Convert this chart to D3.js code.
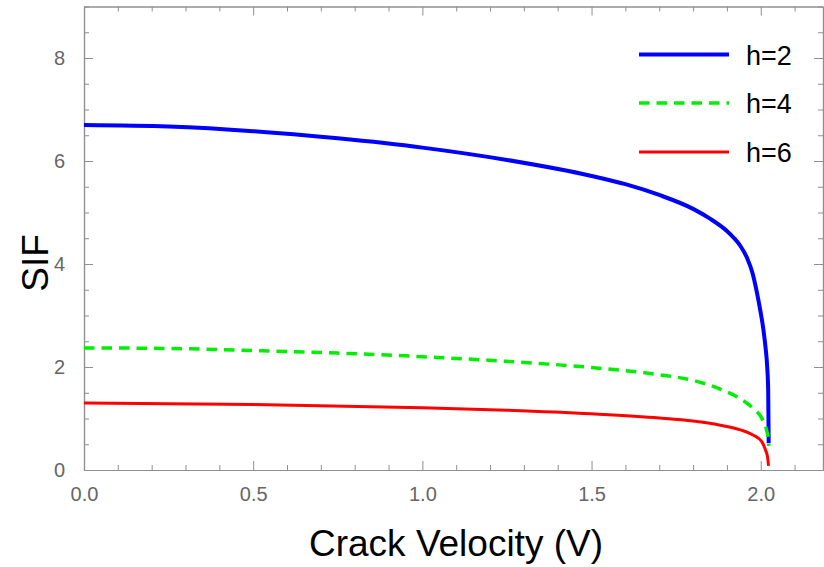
<!DOCTYPE html>
<html>
<head>
<meta charset="utf-8">
<script src="https://cdn.jsdelivr.net/npm/d3@7/dist/d3.min.js"></script>
<style>
html,body{margin:0;padding:0;background:#fff;}
svg{display:block;font-family:"Liberation Sans",Arial,sans-serif;}
</style>
</head>
<body>
<svg id="chart" width="824" height="567"></svg>
<script>
// ---- data ----
const seriesNames = ["h=2", "h=4", "h=6"];
const seriesColors = ["#0000ff", "#00ee00", "#ff0000"];

const vBlue = [0, 0.25, 0.5, 0.75, 1.0, 1.25, 1.5, 1.6, 1.7, 1.8, 1.85, 1.9, 1.92, 1.94, 1.96, 1.975, 1.988, 2.0, 2.008, 2.014, 2.019, 2.022, 2.0235];
const sifBlue = [6.70, 6.67, 6.58, 6.44, 6.26, 6.02, 5.71, 5.55, 5.34, 5.07, 4.88, 4.64, 4.51, 4.35, 4.11, 3.84, 3.47, 3.05, 2.72, 2.39, 2.01, 1.55, 0.52];

const vGreen = [0, 0.25, 0.5, 0.75, 1.0, 1.25, 1.5, 1.7, 1.8, 1.88, 1.94, 1.977, 2.006, 2.017, 2.022, 2.024];
const sifGreen = [2.37, 2.36, 2.32, 2.27, 2.20, 2.11, 1.99, 1.85, 1.74, 1.57, 1.38, 1.20, 0.97, 0.78, 0.62, 0.47];

const vRed = [0, 0.5, 1.0, 1.25, 1.5, 1.7, 1.8, 1.88, 1.94, 1.977, 2.003, 2.014, 2.02, 2.023];
const sifRed = [1.30, 1.27, 1.21, 1.16, 1.09, 1.01, 0.95, 0.87, 0.78, 0.68, 0.55, 0.39, 0.26, 0.08];

const xMajorTicks = [0, 0.5, 1.0, 1.5, 2.0];
const xTickLabels = ["0.0", "0.5", "1.0", "1.5", "2.0"];
const yMajorTicks = [0, 2, 4, 6, 8];
const yTickLabels = ["0", "2", "4", "6", "8"];

const xTitle = "Crack Velocity (V)";
const yTitle = "SIF";

// ---- layout ----
const svg = d3.select("#chart");
const mLeft = 84, mRight = 823, mTop = 6.5, mBottom = 470;
const x = d3.scaleLinear().domain([0, 2.184]).range([mLeft, mRight]);
const y = d3.scaleLinear().domain([0, 9]).range([mBottom, mTop]);

const frameColor = "#8f8f8f";
const labelColor = "#666666";

const xMinor = d3.range(0, 22).map(i => i / 10).filter(v => !xMajorTicks.some(m => Math.abs(m - v) < 1e-9));
const yMinor = d3.range(0, 19).map(i => i / 2).filter(v => !yMajorTicks.includes(v));

// axes via d3.axis
const gx = svg.append("g").attr("transform", `translate(0,${mBottom})`)
  .call(d3.axisBottom(x).tickValues(xMajorTicks).tickFormat((d, i) => xTickLabels[i]).tickSize(-9).tickPadding(17).tickSizeOuter(0));
const gxm = svg.append("g").attr("transform", `translate(0,${mBottom})`)
  .call(d3.axisBottom(x).tickValues(xMinor).tickFormat("").tickSize(-5).tickSizeOuter(0));
const gxt = svg.append("g").attr("transform", `translate(0,${mTop})`)
  .call(d3.axisTop(x).tickValues(xMajorTicks).tickFormat("").tickSize(-9).tickSizeOuter(0));
const gxtm = svg.append("g").attr("transform", `translate(0,${mTop})`)
  .call(d3.axisTop(x).tickValues(xMinor).tickFormat("").tickSize(-5).tickSizeOuter(0));

const gy = svg.append("g").attr("transform", `translate(${mLeft},0)`)
  .call(d3.axisLeft(y).tickValues(yMajorTicks).tickFormat((d, i) => yTickLabels[i]).tickSize(-9).tickPadding(19).tickSizeOuter(0));
const gym = svg.append("g").attr("transform", `translate(${mLeft},0)`)
  .call(d3.axisLeft(y).tickValues(yMinor).tickFormat("").tickSize(-5).tickSizeOuter(0));
const gyr = svg.append("g").attr("transform", `translate(${mRight},0)`)
  .call(d3.axisRight(y).tickValues(yMajorTicks).tickFormat("").tickSize(-9).tickSizeOuter(0));
const gyrm = svg.append("g").attr("transform", `translate(${mRight},0)`)
  .call(d3.axisRight(y).tickValues(yMinor).tickFormat("").tickSize(-5).tickSizeOuter(0));

[gx, gxm, gxt, gxtm, gy, gym, gyr, gyrm].forEach(g => {
  g.selectAll(".domain").attr("stroke", frameColor).attr("stroke-width", 1.2);
  g.selectAll(".tick line").attr("stroke", frameColor).attr("stroke-width", 1);
  g.selectAll(".tick text").attr("fill", labelColor).attr("font-size", 20)
    .attr("font-family", "'Liberation Sans', Arial, sans-serif");
});

// ---- curves ----
const series = [
  {v: vBlue, s: sifBlue, color: seriesColors[0], width: 4, dash: null},
  {v: vGreen, s: sifGreen, color: seriesColors[1], width: 3.5, dash: "10.5,7"},
  {v: vRed, s: sifRed, color: seriesColors[2], width: 3, dash: null}
];
const line = d3.line().x(d => x(d[0])).y(d => y(d[1])).curve(d3.curveMonotoneX);
svg.append("defs").append("clipPath").attr("id", "clip")
  .append("rect").attr("x", mLeft).attr("y", mTop).attr("width", mRight - mLeft).attr("height", mBottom - mTop);
const plot = svg.append("g").attr("clip-path", "url(#clip)");
series.forEach(sr => {
  plot.append("path")
    .datum(sr.v.map((v, i) => [v, sr.s[i]]))
    .attr("fill", "none")
    .attr("stroke", sr.color)
    .attr("stroke-width", sr.width)
    .attr("stroke-dasharray", sr.dash)
    .attr("d", line);
});

// ---- legend ----
const legend = svg.append("g");
const legY = [54.5, 103, 152];
series.forEach((sr, i) => {
  legend.append("line")
    .attr("x1", 639).attr("x2", 729).attr("y1", legY[i]).attr("y2", legY[i])
    .attr("stroke", sr.color).attr("stroke-width", sr.width)
    .attr("stroke-dasharray", sr.dash);
  legend.append("text")
    .attr("x", 746).attr("y", legY[i] + 10)
    .attr("font-size", 27).attr("fill", "#000")
    .text(seriesNames[i]);
});

// ---- titles ----
svg.append("text")
  .attr("x", 456).attr("y", 556)
  .attr("text-anchor", "middle").attr("font-size", 37).attr("fill", "#000")
  .text(xTitle);
svg.append("text")
  .attr("transform", "translate(48,263) rotate(-90)")
  .attr("text-anchor", "middle").attr("font-size", 37).attr("fill", "#000")
  .text(yTitle);
</script>
</body>
</html>
